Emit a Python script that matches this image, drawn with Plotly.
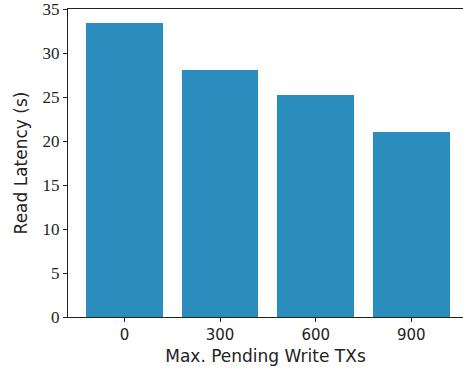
import plotly.graph_objects as go

categories = ["0", "300", "600", "900"]
latency = [33.4, 28.1, 25.2, 21.0]
y_ticks = [0, 5, 10, 15, 20, 25, 30, 35]

fig = go.Figure()
fig.add_trace(go.Bar(
    x=list(range(len(categories))),
    y=latency,
    width=0.8,
    marker=dict(color="#2b8cbe", line=dict(width=0)),
))

fig.update_layout(
    width=463, height=372,
    margin=dict(l=68, r=0, t=7, b=55),
    plot_bgcolor="white", paper_bgcolor="white",
    showlegend=False,
    bargap=0,
)
fig.update_xaxes(
    range=[-0.59, 3.54],
    tickmode="array",
    tickvals=list(range(len(categories))),
    ticktext=categories,
    showline=True, linecolor="#222", linewidth=1.3, mirror=True,
    ticks="outside", ticklen=4, tickcolor="#222",
    showgrid=False, zeroline=False,
    tickfont=dict(family="DejaVu Sans", size=15, color="#222"),
    title=dict(text="Max. Pending Write TXs", font=dict(family="DejaVu Sans", size=17, color="#222"), standoff=6),
)
fig.update_yaxes(
    range=[0, 35.02],
    tickmode="array",
    tickvals=y_ticks,
    showline=True, linecolor="#222", linewidth=1.3,
    ticks="outside", ticklen=4, tickcolor="#222",
    showgrid=False, zeroline=False,
    ticklabeloverflow="allow",
    tickfont=dict(family="Liberation Serif", size=17, color="#222"),
    title=dict(text="Read Latency (s)", font=dict(family="DejaVu Sans", size=17, color="#222"), standoff=10),
)

fig.write_html("out.html")
